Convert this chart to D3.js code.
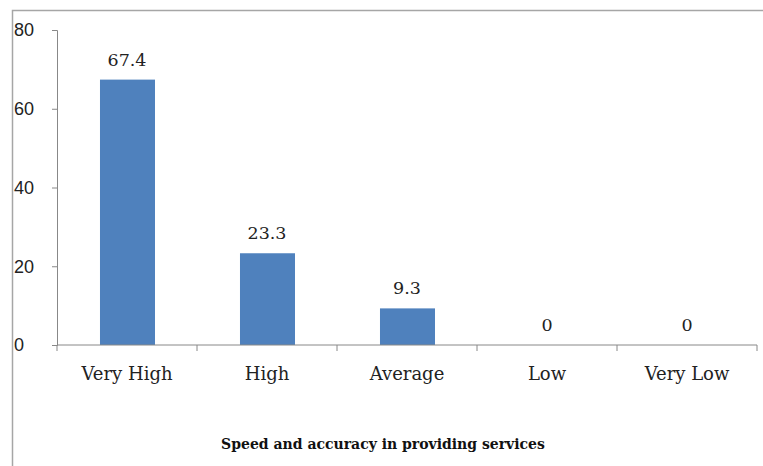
<!DOCTYPE html>
<html>
  <head>
    <meta charset="utf-8">
    <title>Speed and accuracy in providing services</title>
    <script src="https://cdn.jsdelivr.net/npm/d3@7"></script>
    <style>
      body { margin: 0; background: #fff; }
      svg { display: block; }
    </style>
  </head>
  <body>
    <div id="chart"></div>

    <script>
      // data
      let categories = ["Very High", "High", "Average", "Low", "Very Low"];
      let values = [67.4, 23.3, 9.3, 0, 0];
      let yTicks = [0, 20, 40, 60, 80];
      let xTitle = "Speed and accuracy in providing services";

      let width = 763, height = 466;
      let margin = { top: 30, right: 6, bottom: 121, left: 57 };

      let svg = d3.select("#chart")
        .append("svg")
          .attr("width", width)
          .attr("height", height);

      // outer frame (runs off the right and bottom edges)
      svg.append("path")
        .attr("d", "M12.5," + (height + 2) + "V10.5H" + (width + 2))
        .attr("fill", "none")
        .attr("stroke", "#a6a6a6")
        .attr("stroke-width", 1.5);

      let x = d3.scaleBand()
        .domain(categories)
        .range([margin.left, width - margin.right])
        .paddingInner(0)
        .paddingOuter(0);

      let y = d3.scaleLinear()
        .domain([0, 80])
        .range([height - margin.bottom, margin.top]);

      // bars
      svg.selectAll(".bar")
          .data(values)
        .enter().append("rect")
          .classed("bar", true)
          .attr("x", function(d, i) { return x(categories[i]) + x.bandwidth() * 0.307; })
          .attr("width", x.bandwidth() * 0.393)
          .attr("y", function(d) { return y(d); })
          .attr("height", function(d) { return y(0) - y(d); })
          .attr("fill", "#4f81bd");

      // value labels
      svg.selectAll(".val")
          .data(values)
        .enter().append("text")
          .classed("val", true)
          .attr("x", function(d, i) { return x(categories[i]) + x.bandwidth() / 2; })
          .attr("y", function(d) { return y(d) - 14; })
          .attr("text-anchor", "middle")
          .style("font-family", "'DejaVu Serif', serif")
          .style("font-size", "17.5px")
          .style("fill", "#222")
          .text(function(d) { return d; });

      // y axis
      let yAxis = svg.append("g")
        .attr("transform", "translate(" + margin.left + ",0)")
        .call(d3.axisLeft(y).tickValues(yTicks).tickSize(5).tickPadding(18));
      yAxis.selectAll("line, path").attr("stroke", "#888");
      yAxis.selectAll("text")
        .attr("text-anchor", "start")
        .attr("x", -43)
        .style("font-family", "'Liberation Sans', Arial, sans-serif")
        .style("font-size", "18px")
        .style("fill", "#222");

      // x axis with ticks at category boundaries
      let xAxis = svg.append("g")
        .attr("transform", "translate(0," + y(0) + ")");
      xAxis.append("line")
        .attr("x1", margin.left)
        .attr("x2", width - margin.right)
        .attr("stroke", "#888");
      xAxis.selectAll(".tick")
          .data(categories.concat([null]))
        .enter().append("line")
          .attr("x1", function(d) { return d ? x(d) : x.range()[1]; })
          .attr("x2", function(d) { return d ? x(d) : x.range()[1]; })
          .attr("y1", 0)
          .attr("y2", 6)
          .attr("stroke", "#888");
      xAxis.selectAll(".cat")
          .data(categories)
        .enter().append("text")
          .classed("cat", true)
          .attr("x", function(d) { return x(d) + x.bandwidth() / 2; })
          .attr("y", 35)
          .attr("text-anchor", "middle")
          .style("font-family", "'DejaVu Serif', serif")
          .style("font-size", "18px")
          .style("fill", "#222")
          .text(function(d) { return d; });

      // axis title
      svg.append("text")
        .attr("x", 383)
        .attr("y", 449)
        .attr("text-anchor", "middle")
        .style("font-family", "'DejaVu Serif', serif")
        .style("font-weight", "bold")
        .style("font-size", "14px")
        .style("fill", "#111")
        .text(xTitle);
    </script>
  </body>
</html>
